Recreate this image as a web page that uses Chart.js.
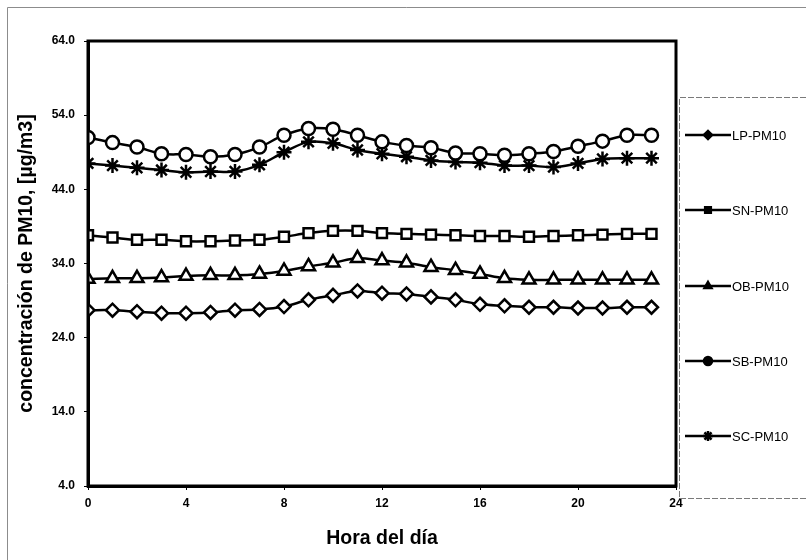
<!DOCTYPE html>
<html>
<head>
<meta charset="utf-8">
<script src="https://cdn.jsdelivr.net/npm/chart.js@4/dist/chart.umd.min.js"></script>
<style>
  html, body { margin: 0; padding: 0; background: #fff; }
  canvas { display: block; }
</style>
</head>
<body>
<canvas id="graph" width="806" height="560"></canvas>
<script>
const hours = Array.from({ length: 24 }, (_, i) => i);

const lpPM10 = [27.7, 27.7, 27.5, 27.3, 27.3, 27.4, 27.7, 27.8, 28.2, 29.1, 29.7, 30.3, 30.0, 29.9, 29.5, 29.1, 28.5, 28.3, 28.1, 28.1, 28.0, 28.0, 28.1, 28.1];
const snPM10 = [37.8, 37.5, 37.2, 37.2, 37.0, 37.0, 37.1, 37.2, 37.6, 38.1, 38.4, 38.4, 38.1, 38.0, 37.9, 37.8, 37.7, 37.7, 37.6, 37.7, 37.8, 37.9, 38.0, 38.0];
const obPM10 = [31.9, 32.0, 32.0, 32.1, 32.3, 32.4, 32.4, 32.6, 33.0, 33.6, 34.1, 34.7, 34.4, 34.1, 33.5, 33.1, 32.6, 32.0, 31.8, 31.8, 31.8, 31.8, 31.8, 31.8];
const sbPM10 = [51.0, 50.3, 49.7, 48.8, 48.7, 48.4, 48.7, 49.7, 51.3, 52.2, 52.1, 51.3, 50.4, 49.9, 49.6, 48.9, 48.8, 48.6, 48.8, 49.1, 49.8, 50.5, 51.3, 51.3];
const scPM10 = [47.5, 47.2, 46.9, 46.6, 46.3, 46.4, 46.4, 47.3, 49.0, 50.4, 50.2, 49.3, 48.8, 48.4, 47.9, 47.7, 47.6, 47.2, 47.2, 47.0, 47.5, 48.1, 48.2, 48.2];

const seriesNames = ['LP-PM10', 'SN-PM10', 'OB-PM10', 'SB-PM10', 'SC-PM10'];
const seriesValues = [lpPM10, snPM10, obPM10, sbPM10, scPM10];
const markers = ['rectRot', 'rect', 'triangle', 'circle', 'star'];
const markerSizes = [6.5, 7, 7.5, 6.5, 7.5];

const yTicks = { min: 4, max: 64, step: 10 };
const xTicks = { min: 0, max: 24, step: 4 };

const narrow = "'Liberation Sans Narrow', 'Liberation Sans', Arial, sans-serif";
const sans = "'Liberation Sans', Arial, sans-serif";

// frame around plot, outer chart border and the legend box on the right
const framePlugin = {
    id: 'frame',
    beforeDraw(chart) {
        const c = chart.ctx;
        c.save();
        c.fillStyle = '#fff';
        c.fillRect(0, 0, chart.width, chart.height);
        c.strokeStyle = '#8c8c8c';
        c.lineWidth = 1;
        c.beginPath();
        c.moveTo(7.5, chart.height);
        c.lineTo(7.5, 7.5);
        c.lineTo(chart.width, 7.5);
        c.stroke();
        c.restore();
    },
    afterDatasetsDraw(chart) {
        const c = chart.ctx;
        const a = chart.chartArea;
        c.save();
        c.strokeStyle = '#000';
        c.lineWidth = 3;
        c.strokeRect(a.left, a.top, a.right - a.left, a.bottom - a.top);
        c.restore();
    },
    afterDraw(chart) {
        const c = chart.ctx;
        c.save();
        c.strokeStyle = '#7a7a7a';
        c.lineWidth = 1;
        c.setLineDash([6, 2]);
        c.beginPath();
        c.moveTo(chart.width, 97.5);
        c.lineTo(679.5, 97.5);
        c.lineTo(679.5, 498.5);
        c.lineTo(chart.width, 498.5);
        c.stroke();
        c.setLineDash([]);

        const rowY = [135, 210, 286, 361, 436];
        chart.data.datasets.forEach((ds, i) => {
            const y = rowY[i];
            c.strokeStyle = '#000';
            c.lineWidth = 2.5;
            c.beginPath();
            c.moveTo(685, y);
            c.lineTo(731, y);
            c.stroke();
            c.fillStyle = '#000';
            Chart.helpers.drawPoint(c, {
                pointStyle: ds.pointStyle,
                radius: ds.pointStyle === 'star' ? 5 : 4,
                borderWidth: 2.5,
                rotation: 0
            }, 708, y);
            c.fillStyle = '#000';
            c.font = '13px ' + sans;
            c.textBaseline = 'middle';
            c.textAlign = 'left';
            c.fillText(ds.label, 732, y + 1);
        });
        c.restore();
    }
};

const datasets = seriesNames.map((name, i) => ({
    label: name,
    data: hours.map((h, k) => ({ x: h, y: seriesValues[i][k] })),
    borderColor: '#000',
    backgroundColor: '#fff',
    borderWidth: 2.5,
    tension: 0.35,
    pointStyle: markers[i],
    pointRadius: markerSizes[i],
    pointBorderWidth: 2.5,
    pointBackgroundColor: '#fff',
    pointBorderColor: '#000'
}));

new Chart(document.getElementById('graph').getContext('2d'), {
    type: 'line',
    data: { datasets: datasets },
    options: {
        responsive: false,
        animation: false,
        layout: { padding: { left: 0, top: 41, right: 130, bottom: 0 } },
        plugins: {
            legend: { display: false },
            tooltip: { enabled: false }
        },
        scales: {
            x: {
                type: 'linear',
                min: xTicks.min,
                max: xTicks.max,
                afterFit(scale) { scale.height = 74; },
                ticks: {
                    stepSize: xTicks.step,
                    color: '#000',
                    padding: 6,
                    font: { family: narrow, size: 12, weight: 'bold' }
                },
                grid: { drawOnChartArea: false, tickLength: 4, color: '#000', lineWidth: 1 },
                border: { color: '#000', width: 3 },
                title: {
                    display: true,
                    text: 'Hora del día',
                    color: '#000',
                    padding: { top: 0, bottom: 10 },
                    font: { family: sans, size: 19.5, weight: 'bold' }
                }
            },
            y: {
                min: yTicks.min,
                max: yTicks.max,
                afterFit(scale) { scale.width = 88; },
                ticks: {
                    stepSize: yTicks.step,
                    color: '#000',
                    padding: 9,
                    callback: v => v.toFixed(1),
                    font: { family: narrow, size: 12, weight: 'bold' }
                },
                grid: { drawOnChartArea: false, tickLength: 4, color: '#000', lineWidth: 1 },
                border: { color: '#000', width: 3 },
                title: {
                    display: true,
                    text: 'concentración de PM10, [µg/m3]',
                    color: '#000',
                    padding: { top: 15, bottom: 0 },
                    font: { family: sans, size: 19.5, weight: 'bold' }
                }
            }
        }
    },
    plugins: [framePlugin]
});
</script>
</body>
</html>
